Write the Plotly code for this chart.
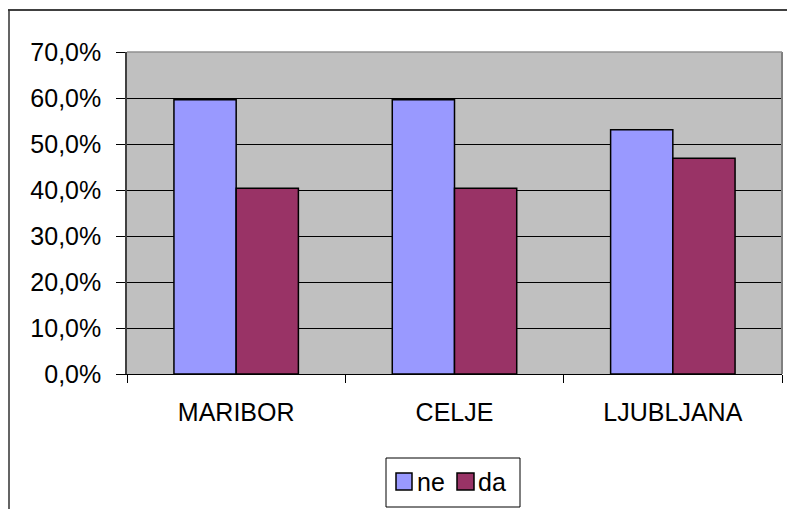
import plotly.graph_objects as go

cities = ["MARIBOR", "CELJE", "LJUBLJANA"]
ne_vals = [0.596, 0.596, 0.531]
da_vals = [0.404, 0.404, 0.469]
y_ticks = [0, 0.1, 0.2, 0.3, 0.4, 0.5, 0.6, 0.7]
ne_color = "#9999FF"
da_color = "#993366"

# page body adds an 8px margin, so the figure starts at (8, 8) on screen
OFF = 8
W, H = 795 - OFF, 509 - OFF
L, R, T, B = 127, 782, 52, 374  # plot area in screen px


def px_x(x):
    return (x - L) / (R - L)


def px_y(y):
    return (B - y) / (B - T)


fig = go.Figure()
fig.add_trace(go.Bar(x=cities, y=ne_vals, name="ne",
                     marker=dict(color=ne_color, line=dict(color="black", width=1.5))))
fig.add_trace(go.Bar(x=cities, y=da_vals, name="da",
                     marker=dict(color=da_color, line=dict(color="black", width=1.5))))

# hand-drawn legend box like the Excel one
legend_shapes = [
    dict(type="rect", xref="paper", yref="paper", x0=px_x(386), x1=px_x(520), y0=px_y(458), y1=px_y(507),
         line=dict(color="black", width=1), fillcolor="white"),
    dict(type="rect", xref="paper", yref="paper", x0=px_x(396), x1=px_x(412), y0=px_y(473), y1=px_y(490),
         line=dict(color="black", width=1.5), fillcolor=ne_color),
    dict(type="rect", xref="paper", yref="paper", x0=px_x(457), x1=px_x(474), y0=px_y(473), y1=px_y(490),
         line=dict(color="black", width=1.5), fillcolor=da_color),
]
legend_text = [
    dict(text="ne", xref="paper", yref="paper", x=px_x(415), y=px_y(482), xanchor="left", yanchor="middle",
         showarrow=False, font=dict(size=25)),
    dict(text="da", xref="paper", yref="paper", x=px_x(476), y=px_y(482), xanchor="left", yanchor="middle",
         showarrow=False, font=dict(size=25)),
]

fig.update_layout(
    width=W, height=H,
    margin=dict(l=L - OFF, r=795 - R, t=T - OFF, b=509 - B),
    paper_bgcolor="white", plot_bgcolor="#C0C0C0",
    separators=",.",
    font=dict(family="Arial, Liberation Sans", size=25, color="black"),
    barmode="group", bargap=0.43, bargroupgap=0,
    showlegend=False,
    xaxis=dict(
        showgrid=False, ticks="outside", ticklen=8, tickcolor="black",
        tickson="boundaries", showline=True, linecolor="black", linewidth=1,
        ticklabelstandoff=16,
    ),
    yaxis=dict(
        range=[0, 0.7], tickvals=y_ticks, tickformat=".1%",
        showgrid=True, gridcolor="black", gridwidth=1,
        ticks="outside", ticklen=9, tickcolor="black",
        showline=True, linecolor="#404040", linewidth=1.5,
        ticklabelstandoff=10, zeroline=False,
    ),
    shapes=[
        dict(type="line", xref="paper", yref="paper", x0=1, x1=1, y0=0, y1=1,
             line=dict(color="#808080", width=2)),
        dict(type="line", xref="paper", yref="paper", x0=0, x1=1, y0=1, y1=1,
             line=dict(color="#909090", width=1.5)),
        dict(type="line", xref="paper", yref="paper", x0=px_x(8), x1=px_x(795), y0=px_y(10), y1=px_y(10),
             line=dict(color="black", width=1.5)),
        dict(type="line", xref="paper", yref="paper", x0=px_x(9), x1=px_x(9), y0=px_y(10), y1=px_y(509),
             line=dict(color="#303030", width=1.5)),
    ] + legend_shapes,
    annotations=legend_text,
)

fig.write_html("out.html")
